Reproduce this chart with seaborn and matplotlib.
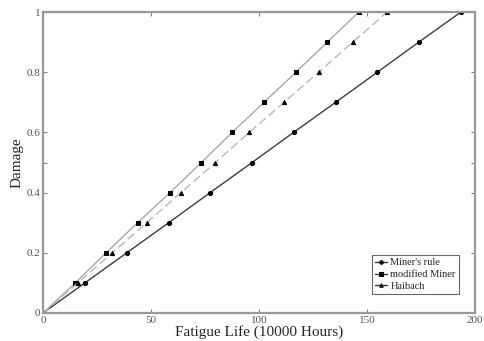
import matplotlib
matplotlib.use("Agg")
import matplotlib.pyplot as plt
import seaborn as sns
import pandas as pd

damage = [0, 0.1, 0.2, 0.3, 0.4, 0.5, 0.6, 0.7, 0.8, 0.9, 1.0]
miner = [0, 19.4, 38.8, 58.2, 77.4, 96.8, 116.0, 135.5, 154.8, 174.0, 193.5]
modified_miner = [0, 15.0, 29.2, 43.8, 58.8, 73.3, 87.6, 102.3, 117.1, 131.6, 146.3]
haibach = [0, 16.2, 32.1, 48.0, 63.9, 79.8, 95.5, 111.6, 127.6, 143.4, 159.4]
series_names = ["Miner's rule", "modified Miner", "Haibach"]
x_ticks = [0, 50, 100, 150, 200]
y_ticks = [0, 0.2, 0.4, 0.5, 0.6, 0.8, 1.0]
y_tick_labels = ["0", "0.2", "0.4", "", "0.6", "0.8", "1"]

sns.set_style("white")
plt.rcParams['font.family'] = ['Liberation Serif', 'DejaVu Serif']

fig = plt.figure(figsize=(4.85, 3.41), dpi=100)
ax = fig.add_axes([43/485, 28/341, 432/485, 301/341])

styles = [
    dict(color="#3c3c3c", marker="o", linestyle="-", lw=1.0),
    dict(color="#a8a8a8", marker="s", linestyle="-", lw=1.0),
    dict(color="#b8b8b8", marker="^", linestyle=(0, (6, 3)), lw=1.0),
]
for name, xs, st in zip(series_names, [miner, modified_miner, haibach], styles):
    df = pd.DataFrame({"life": xs, "damage": damage})
    sns.lineplot(data=df, x="life", y="damage", ax=ax, color=st["color"],
                 linestyle=st["linestyle"], lw=st["lw"], marker=st["marker"],
                 markersize=3, markerfacecolor="black", markeredgecolor="black",
                 label=name, sort=False)

ax.set_xlim(0, 200)
ax.set_ylim(0, 1)
ax.set_xticks(x_ticks)
ax.set_xticklabels([str(t) for t in x_ticks])
ax.set_yticks(y_ticks)
ax.set_yticklabels(y_tick_labels)
ax.tick_params(direction="in", length=3, width=0.8, colors="#808080",
               labelcolor="#555555", labelsize=8, top=True, right=True,
               bottom=True, left=True, pad=2)
for s in ax.spines.values():
    s.set_color("#999999")
    s.set_linewidth(1.6)
ax.set_xlabel("Fatigue Life (10000 Hours)", fontsize=11, labelpad=0)
ax.set_ylabel("Damage", fontsize=11, labelpad=2)

leg = ax.legend(loc="lower right", bbox_to_anchor=(0.975, 0.045), fontsize=7.5,
                handlelength=1.2, handletextpad=0.3, borderpad=0.3,
                labelspacing=0.25, frameon=True, fancybox=False)
leg.get_frame().set_edgecolor("#444444")
leg.get_frame().set_linewidth(0.8)
for h in leg.legend_handles:
    h.set_color("#333333")
    h.set_linestyle("-")
    h.set_markersize(2.5)

fig.savefig("out.png", dpi=100)
